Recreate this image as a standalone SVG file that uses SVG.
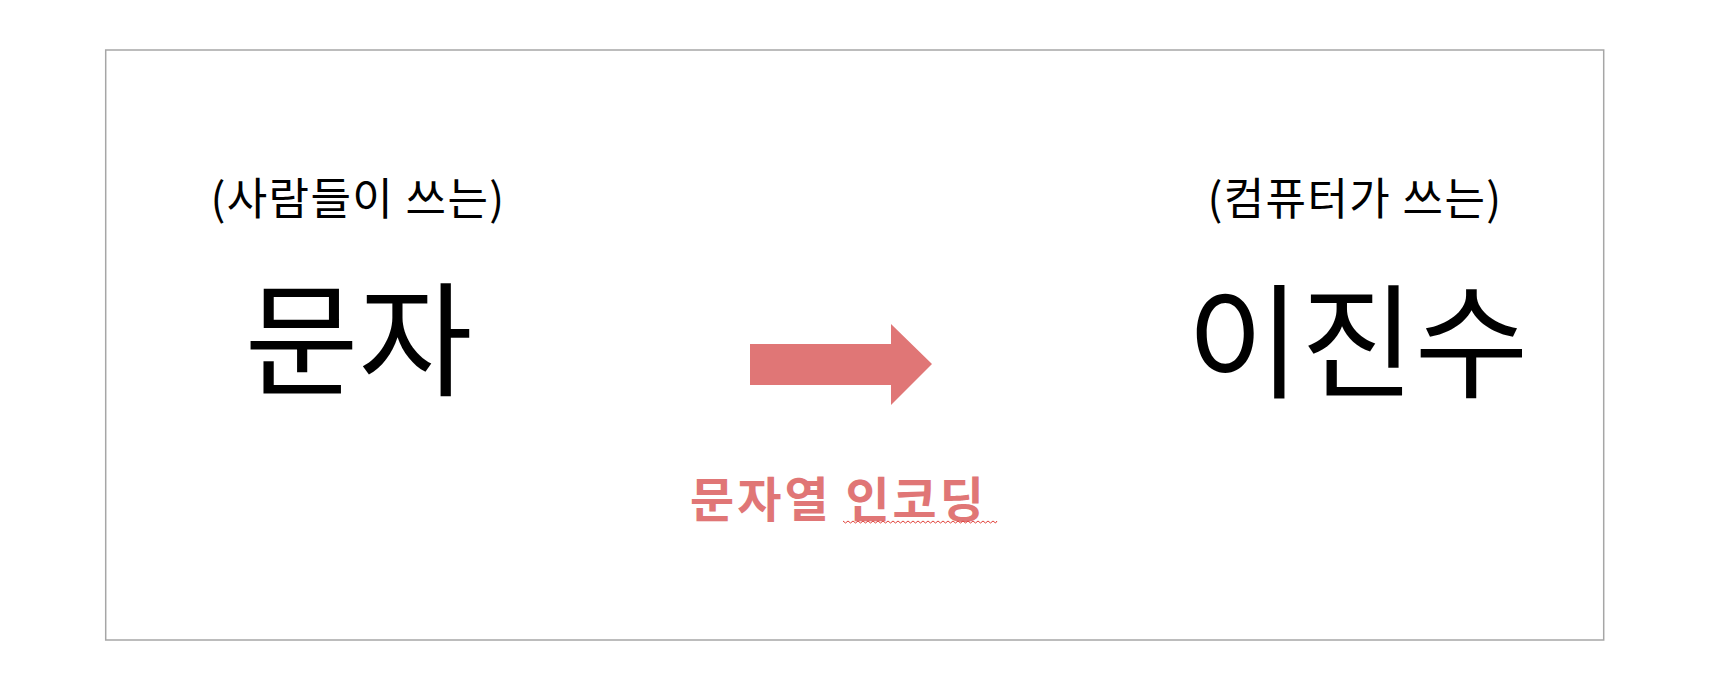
<svg xmlns="http://www.w3.org/2000/svg" width="1726" height="686" viewBox="0 0 1726 686">
<style>
.t{font-family:"Noto Sans CJK KR","Noto Sans",sans-serif;text-anchor:middle;fill:#000}
.s{font-size:44px;letter-spacing:1.4px}
.b{font-size:124px}
.lbl{font-family:"Noto Sans CJK KR","Noto Sans",sans-serif;text-anchor:middle;fill:#E07676;font-size:48px;font-weight:bold;letter-spacing:3px}
</style>
<rect x="0" y="0" width="1726" height="686" fill="#fff"/>
<rect id="frame" x="105.7" y="50" width="1498" height="590" fill="#fff" stroke="#A6A6A6" stroke-width="1.5"/>
<g id="node-human">
<text class="t s" x="358" y="215">(사람들이 쓰는)</text>
<text class="t b" x="358.5" y="386">문자</text>
</g>
<g id="node-computer">
<text class="t s" x="1355" y="215">(컴퓨터가 쓰는)</text>
<text class="t b" x="1357.5" y="388">이진수</text>
</g>
<g id="connectors">
<polygon points="750,344 891,344 891,324 932,364 891,405 891,385 750,385" fill="#E07676"/>
</g>
<g id="label">
<text class="lbl" x="838.5" y="517">문자열 인코딩</text>
<polyline fill="none" stroke="#E0413A" stroke-width="1" points="843,521 845.5,523 848,521 850.5,523 853,521 855.5,523 858,521 860.5,523 863,521 865.5,523 868,521 870.5,523 873,521 875.5,523 878,521 880.5,523 883,521 885.5,523 888,521 890.5,523 893,521 895.5,523 898,521 900.5,523 903,521 905.5,523 908,521 910.5,523 913,521 915.5,523 918,521 920.5,523 923,521 925.5,523 928,521 930.5,523 933,521 935.5,523 938,521 940.5,523 943,521 945.5,523 948,521 950.5,523 953,521 955.5,523 958,521 960.5,523 963,521 965.5,523 968,521 970.5,523 973,521 975.5,523 978,521 980.5,523 983,521 985.5,523 988,521 990.5,523 993,521 995.5,523 997,521"/>
</g>
</svg>
